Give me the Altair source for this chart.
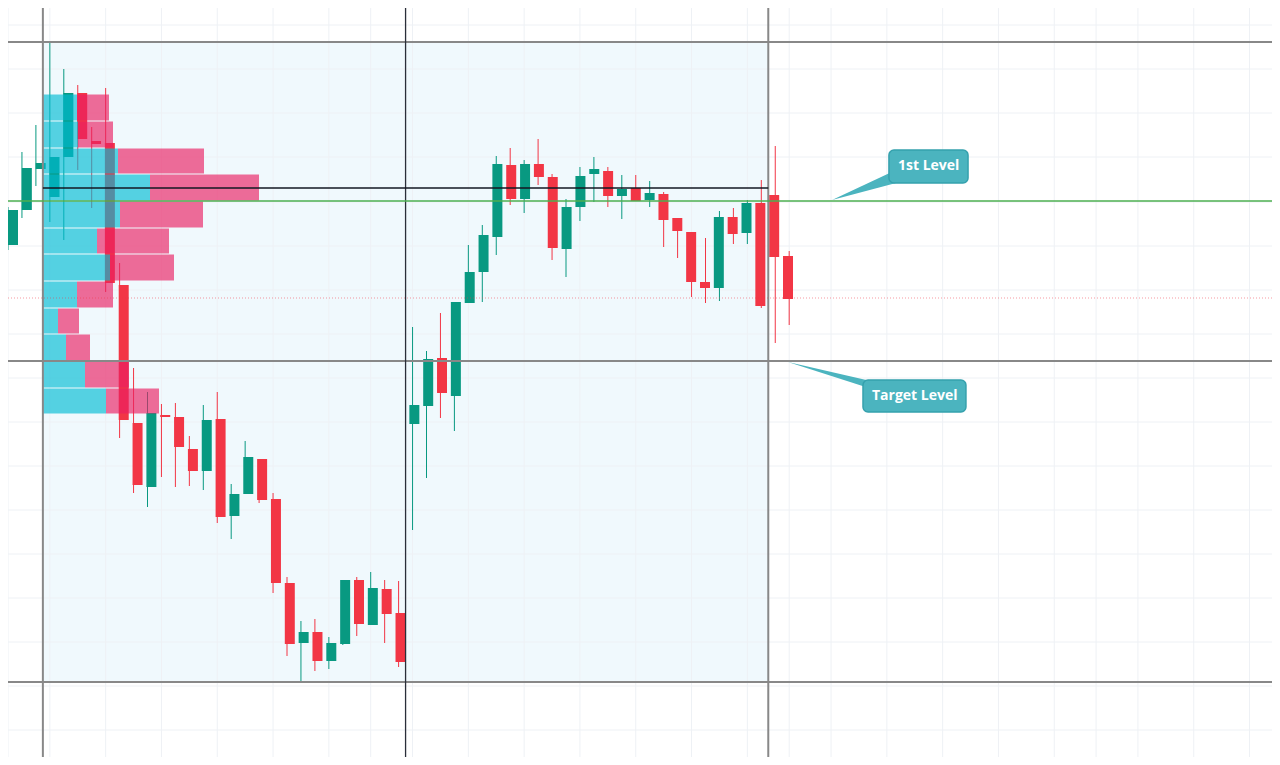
import altair as alt
import pandas as pd

# ---------------- data (prices, arbitrary units) ----------------
candle_open = [555, 590, 631, 603, 643, 707, 659, 657, 515, 377, 313, 385, 383, 351, 329, 381, 284, 306, 341, 301,
               217, 157, 168, 139, 156, 220, 175, 211, 187, 376, 394, 442, 404, 497, 528, 563, 635, 601, 636, 623,
               551, 593, 626, 629, 604, 612, 600, 606, 582, 568, 518, 512, 583, 567, 597, 605, 544]
candle_close = [590, 632, 637, 643, 707, 661, 656, 517, 380, 315, 387, 383, 353, 329, 380, 283, 306, 343, 300, 217,
                156, 168, 139, 157, 220, 176, 212, 186, 138, 395, 441, 407, 498, 528, 565, 636, 601, 636, 623, 552,
                593, 624, 631, 604, 611, 599, 607, 580, 569, 518, 512, 583, 566, 597, 494, 543, 501]
candle_high = [593, 648, 675, 758, 731, 715, 673, 712, 537, 432, 408, 396, 397, 364, 395, 408, 316, 359, 341, 307,
               223, 179, 181, 163, 220, 223, 228, 220, 219, 473, 449, 487, 498, 555, 575, 644, 652, 640, 661, 626,
               601, 633, 643, 633, 625, 625, 619, 608, 582, 568, 562, 589, 592, 600, 620, 654, 549]
candle_low = [550, 582, 614, 578, 560, 630, 592, 508, 362, 307, 293, 323, 313, 314, 310, 277, 261, 306, 297, 207,
              144, 118, 129, 131, 155, 164, 175, 157, 133, 270, 322, 382, 369, 497, 498, 545, 595, 587, 615, 540,
              523, 579, 598, 593, 581, 599, 593, 553, 542, 503, 497, 499, 556, 556, 492, 457, 475]
candle_index = list(range(len(candle_open)))

# volume profile rows (top to bottom)
profile_row_top = [706, 679, 652, 626, 599, 572, 546, 519, 492, 466, 439, 412]
profile_row_bottom = [679, 652, 626, 599, 572, 546, 519, 492, 466, 439, 412, 386]
profile_up_volume = [34, 35, 75, 107, 77, 54, 67, 34, 15, 23, 42, 63]
profile_down_volume = [32, 35, 86, 109, 83, 72, 64, 36, 21, 24, 44, 53]

# drawings
session_bounds = [2.5, 54.5]
session_split = [28.5]
box_prices = [758, 439, 118]
poc_price = 612
level_price = 599
last_price_line = 502

grid_prices = [775, 731, 687, 643, 598, 554, 510, 466, 422, 378, 334, 290, 246, 202, 158, 114, 70]
grid_bars = [0, 3, 7, 11, 15, 19, 23, 26, 29, 33, 37, 41, 45, 49, 53, 56, 59, 63, 67, 71, 75, 78, 81, 85, 89]

callout_label = ["1st Level", "Target Level"]
callout_x0 = [63.15, 61.29]
callout_x1 = [68.82, 68.67]
callout_p0 = [617, 388]
callout_p1 = [650, 420]
callout_text_x = [66.0, 65.0]
callout_text_p = [634, 404]
pointer_tip_x = [59.07, 55.91]
pointer_tip_p = [600, 438]
pointer_base_x = [63.66, 62.15]
pointer_base_hi = [630, 418]
pointer_base_lo = [617, 410]

# ---------------- chart ----------------
W, H = 1264, 749
BAR_PX = 13.95
X_DOMAIN = [0, W / BAR_PX]
Y_DOMAIN = [43, 792]
VOL_DOMAIN = [-35, W - 35]

xs = alt.Scale(domain=X_DOMAIN, nice=False, zero=False)
ys = alt.Scale(domain=Y_DOMAIN, nice=False, zero=False)
vs = alt.Scale(domain=VOL_DOMAIN, nice=False, zero=False)

GREEN = "#089981"
RED = "#f23645"

cdf = pd.DataFrame({"i": candle_index, "open": candle_open, "close": candle_close,
                    "high": candle_high, "low": candle_low})
cdf["dir"] = ["up" if c >= o else "down" for o, c in zip(cdf.open, cdf.close)]
ccolor = alt.Color("dir:N", scale=alt.Scale(domain=["up", "down"], range=[GREEN, RED]), legend=None)

X = lambda f: alt.X(f, scale=xs, axis=None)
Y = lambda f: alt.Y(f, scale=ys, axis=None)

# background shading of the range
shade_df = pd.DataFrame({"x0": [session_bounds[0]], "x1": [session_bounds[1]],
                         "p0": [box_prices[2]], "p1": [box_prices[0]]})
shade = alt.Chart(shade_df).mark_rect(color="#f0f9fd").encode(
    x=X("x0:Q"), x2="x1:Q", y=Y("p0:Q"), y2="p1:Q")

# grid
ghdf = pd.DataFrame({"p": grid_prices, "x0": X_DOMAIN[0], "x1": X_DOMAIN[1]})
grid_h = alt.Chart(ghdf).mark_rule(color="#eef1f5", strokeWidth=1).encode(
    x=X("x0:Q"), x2="x1:Q", y=Y("p:Q"))
gvdf = pd.DataFrame({"i": grid_bars, "p0": Y_DOMAIN[0], "p1": Y_DOMAIN[1]})
grid_v = alt.Chart(gvdf).mark_rule(color="#eef1f5", strokeWidth=1).encode(
    x=X("i:Q"), y=Y("p0:Q"), y2="p1:Q")

# candles
wicks = alt.Chart(cdf).mark_rule(strokeWidth=1).encode(
    x=X("i:Q"), y=Y("low:Q"), y2="high:Q", color=ccolor)
bodies = alt.Chart(cdf).mark_bar(size=10).encode(
    x=X("i:Q"), y=Y("open:Q"), y2="close:Q", color=ccolor)

# volume profile
pdf = pd.DataFrame({"top": profile_row_top, "bottom": profile_row_bottom,
                    "up": profile_up_volume, "down": profile_down_volume})
pdf["zero"] = 0
pdf["total"] = pdf["up"] + pdf["down"]
pdf["y0"] = pdf["bottom"] + 0.5
pdf["y1"] = pdf["top"] - 0.5
prof_up = alt.Chart(pdf).mark_rect(color="#00bcd4", opacity=0.65).encode(
    x=alt.X("zero:Q", scale=vs, axis=None), x2="up:Q", y=Y("y0:Q"), y2="y1:Q")
prof_dn = alt.Chart(pdf).mark_rect(color="#e91e63", opacity=0.65).encode(
    x=alt.X("up:Q", scale=vs, axis=None), x2="total:Q", y=Y("y0:Q"), y2="y1:Q")

# structure lines
hdf = pd.DataFrame({"p": box_prices, "x0": X_DOMAIN[0], "x1": X_DOMAIN[1]})
h_lines = alt.Chart(hdf).mark_rule(color="#888888", strokeWidth=2).encode(
    x=X("x0:Q"), x2="x1:Q", y=Y("p:Q"))
vdf = pd.DataFrame({"i": session_bounds, "p0": Y_DOMAIN[0], "p1": Y_DOMAIN[1]})
v_lines = alt.Chart(vdf).mark_rule(color="#888888", strokeWidth=2).encode(
    x=X("i:Q"), y=Y("p0:Q"), y2="p1:Q")
sdf = pd.DataFrame({"i": session_split, "p0": Y_DOMAIN[0], "p1": Y_DOMAIN[1]})
split_line = alt.Chart(sdf).mark_rule(color="#2a2e39", strokeWidth=1.3).encode(
    x=X("i:Q"), y=Y("p0:Q"), y2="p1:Q")

pocdf = pd.DataFrame({"p": [poc_price], "x0": [session_bounds[0]], "x1": [session_bounds[1]]})
poc = alt.Chart(pocdf).mark_rule(color="#131722", strokeWidth=1.5).encode(
    x=X("x0:Q"), x2="x1:Q", y=Y("p:Q"))
lvldf = pd.DataFrame({"p": [level_price], "x0": [X_DOMAIN[0]], "x1": [X_DOMAIN[1]]})
level = alt.Chart(lvldf).mark_rule(color="#4caf50", strokeWidth=1.5).encode(
    x=X("x0:Q"), x2="x1:Q", y=Y("p:Q"))
lpdf = pd.DataFrame({"p": [last_price_line], "x0": [X_DOMAIN[0]], "x1": [X_DOMAIN[1]]})
last_line = alt.Chart(lpdf).mark_rule(color=RED, strokeWidth=1, opacity=0.5, strokeDash=[1, 2]).encode(
    x=X("x0:Q"), x2="x1:Q", y=Y("p:Q"))

# callouts
CALLOUT = "#4bb4bf"
ptr_rows = []
for k, lab in enumerate(callout_label):
    ptr_rows.append({"label": lab, "x": pointer_tip_x[k], "y": pointer_tip_p[k], "y2": pointer_tip_p[k]})
    ptr_rows.append({"label": lab, "x": pointer_base_x[k], "y": pointer_base_hi[k], "y2": pointer_base_lo[k]})
ptr_df = pd.DataFrame(ptr_rows)
pointers = alt.Chart(ptr_df).mark_area(color=CALLOUT, opacity=1).encode(
    x=X("x:Q"), y=Y("y:Q"), y2="y2:Q", detail="label:N")

box_df = pd.DataFrame({"label": callout_label, "x0": callout_x0, "x1": callout_x1,
                       "p0": callout_p0, "p1": callout_p1,
                       "tx": callout_text_x, "tp": callout_text_p})
boxes = alt.Chart(box_df).mark_rect(color=CALLOUT, stroke="#35a1ad", strokeWidth=1.5, cornerRadius=5).encode(
    x=X("x0:Q"), x2="x1:Q", y=Y("p0:Q"), y2="p1:Q")
labels = alt.Chart(box_df).mark_text(font="Open Sans", fontSize=14, fontWeight="bold", color="white",
                                     align="center", baseline="middle").encode(
    x=X("tx:Q"), y=Y("tp:Q"), text="label:N")

chart = alt.layer(
    shade, grid_h, grid_v, wicks, bodies, prof_up, prof_dn,
    h_lines, v_lines, split_line, poc, level, last_line,
    pointers, boxes, labels
).resolve_scale(x="independent").properties(
    width=W, height=H, autosize=alt.AutoSizeParams(type="none"), padding=0, background="white"
).configure_view(stroke=None)

chart.save("out.html", embed_options={"renderer": "svg", "actions": False})
